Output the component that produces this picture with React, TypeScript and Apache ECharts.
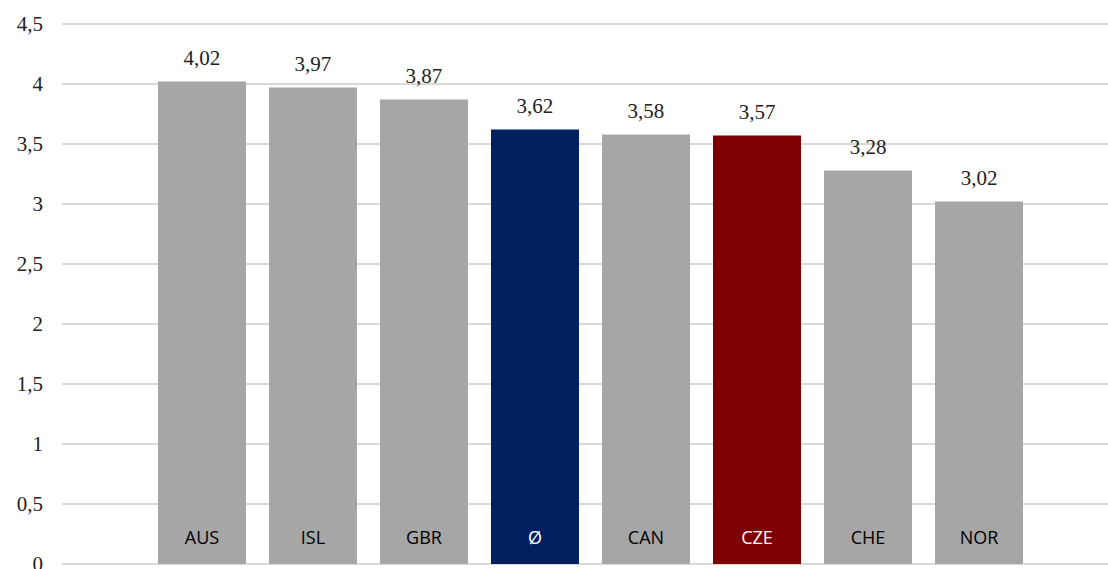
import React, { useEffect, useRef } from "react";
import * as echarts from "echarts";

const categories = ["AUS", "ISL", "GBR", "Ø", "CAN", "CZE", "CHE", "NOR"];
const values = [4.02, 3.97, 3.87, 3.62, 3.58, 3.57, 3.28, 3.02];
const barColors = ["#a6a6a6", "#a6a6a6", "#a6a6a6", "#002060", "#a6a6a6", "#7f0000", "#a6a6a6", "#a6a6a6"];
const labelColors = ["#000", "#000", "#000", "#fff", "#000", "#fff", "#000", "#000"];

const fmt = (v: number) => String(v).replace(".", ",");
const SERIF = "'Liberation Serif', 'Times New Roman', serif";

export default function App() {
  const ref = useRef<HTMLDivElement>(null);
  useEffect(() => {
    if (!ref.current) return;
    const chart = echarts.init(ref.current, null, { renderer: "svg" });
    chart.setOption({
      animation: false,
      grid: { left: 62, right: 0, top: 24, bottom: 5, containLabel: false, outerBoundsMode: "none" },
      xAxis: {
        type: "value",
        min: -1.261,
        max: 8.162,
        show: false,
      },
      yAxis: {
        type: "value",
        min: 0,
        max: 4.5,
        interval: 0.5,
        axisLine: { show: false },
        axisTick: { show: false },
        splitLine: { lineStyle: { color: "#d9d9d9", width: 2 } },
        axisLabel: {
          margin: 19,
          fontFamily: SERIF,
          fontSize: 21,
          color: "#222",
          formatter: (v: number) => fmt(v),
        },
      },
      series: [
        {
          type: "bar",
          barWidth: 88,
          barGap: "-100%",
          data: values.map((v, i) => ({
            value: [i, v],
            itemStyle: { color: barColors[i] },
          })),
          label: {
            show: true,
            position: "top",
            distance: 13,
            fontFamily: SERIF,
            fontSize: 21,
            color: "#222",
            formatter: (p: any) => fmt(p.value[1]),
          },
        },
        {
          type: "bar",
          barWidth: 88,
          barGap: "-100%",
          data: values.map((v, i) => ({
            value: [i, v],
            itemStyle: { color: "transparent" },
            label: { color: labelColors[i] },
          })),
          label: {
            show: true,
            position: "insideBottom",
            distance: 18,
            fontFamily: "'Open Sans', sans-serif",
            fontSize: 18,
            formatter: (p: any) => categories[p.dataIndex],
          },
        },
      ],
    });
    return () => chart.dispose();
  }, []);
  return (
    <div
      ref={ref}
      style={{ position: "fixed", left: 0, top: 0, width: 1108, height: 569, background: "#fff" }}
    />
  );
}
